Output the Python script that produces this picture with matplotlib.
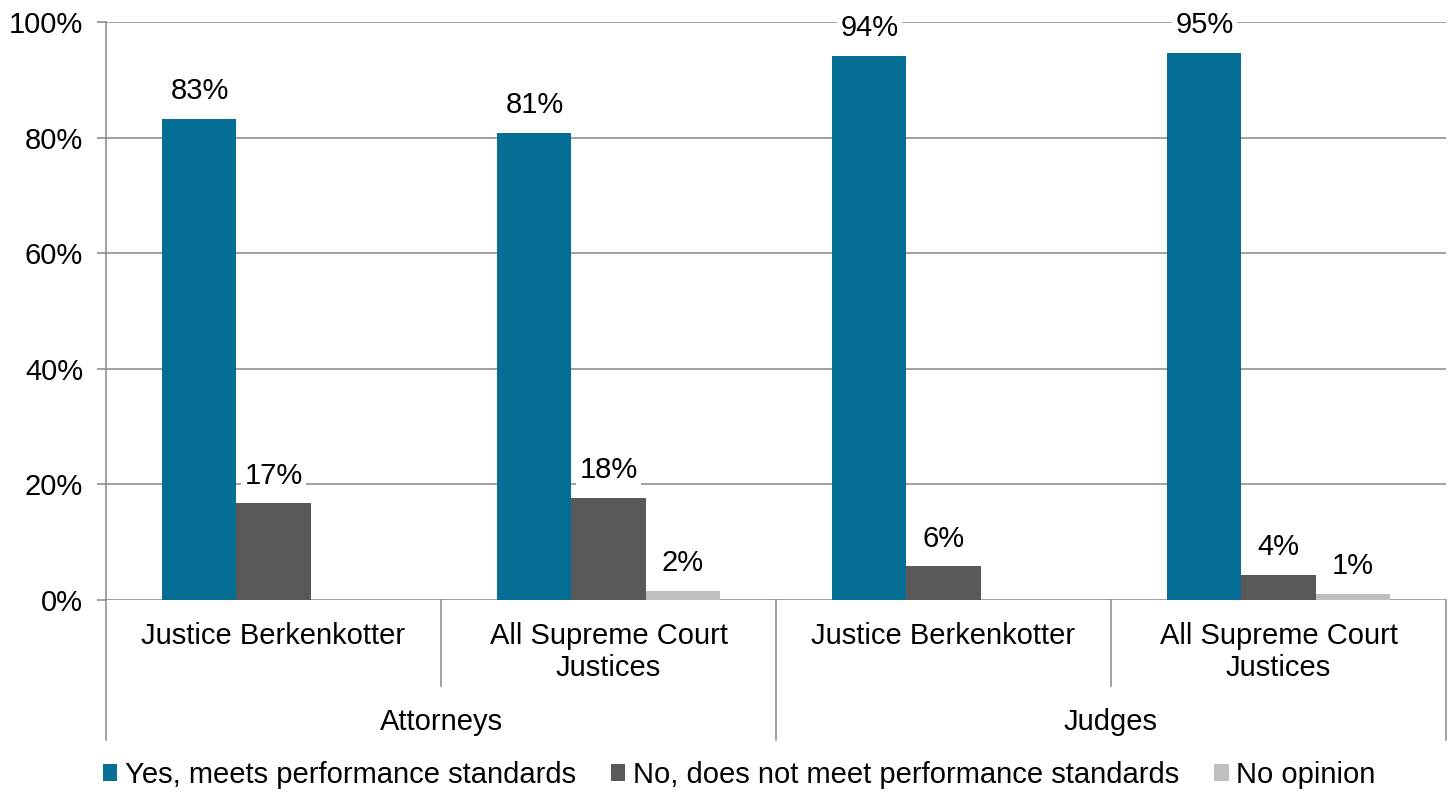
import numpy as np
import matplotlib
matplotlib.use("Agg")
import matplotlib.pyplot as plt

plt.rcParams['font.family'] = ['Liberation Sans', 'DejaVu Sans']

# data
categories = ["Justice Berkenkotter", "All Supreme Court\nJustices",
              "Justice Berkenkotter", "All Supreme Court\nJustices"]
groups = ["Attorneys", "Judges"]
series = ["Yes, meets performance standards",
          "No, does not meet performance standards",
          "No opinion"]
yes_vals = [83.3, 80.8, 94.2, 94.6]
no_vals = [16.7, 17.6, 5.8, 4.4]
noop_vals = [0.0, 1.6, 0.0, 1.1]
colors = ["#046e94", "#595959", "#bfbfbf"]

grid_col = "#878787"
fs = 21

fig = plt.figure(figsize=(14.53, 7.94), dpi=100)
ax = fig.add_axes([106/1453, 1-600/794, 1340/1453, 578/794])

x = np.arange(len(categories))
w = 0.221
all_vals = [yes_vals, no_vals, noop_vals]
for i, (vals, col, name) in enumerate(zip(all_vals, colors, series)):
    xs = x + (i-1)*w
    ax.bar(xs, vals, width=w, color=col, label=name, zorder=3)
    for xi, v in zip(xs, vals):
        if v <= 0:
            continue
        ax.annotate(f"{v:.0f}%", (xi, v), xytext=(0, 20), textcoords="offset points",
                    ha="center", va="center", fontsize=fs, zorder=4,
                    bbox=dict(boxstyle="square,pad=0.12", fc="white", ec="none"))

ax.set_xlim(-0.5, len(categories)-0.5)
ax.set_ylim(0, 100)
ax.set_yticks(np.arange(0, 101, 20))
ax.set_yticklabels([f"{t}%" for t in range(0, 101, 20)], fontsize=fs)
ax.yaxis.grid(True, color=grid_col, linewidth=1.1, zorder=0)
ax.set_axisbelow(True)
ax.tick_params(axis='y', length=6.5, width=1.1, color=grid_col, pad=10)
ax.set_xticks([])
for s in ["top", "right", "bottom"]:
    ax.spines[s].set_visible(False)
ax.spines["left"].set_color(grid_col)
ax.spines["left"].set_linewidth(1.1)

# hierarchical x axis
tr = ax.get_xaxis_transform()
inner_y = -86/578
outer_y = -140/578
for xb in [0.5, 2.5]:
    ax.plot([xb, xb], [0, inner_y], transform=tr, color=grid_col, lw=1.1, clip_on=False)
for xb in [-0.5, 1.5, 3.5]:
    ax.plot([xb, xb], [0, outer_y], transform=tr, color=grid_col, lw=1.1, clip_on=False)
for xi, lab in zip(x, categories):
    ax.text(xi, -22/578, lab, transform=tr, ha="center", va="top", fontsize=fs,
            linespacing=1.18)
for gi, g in enumerate(groups):
    ax.text(0.5 + 2*gi, -122/578, g, transform=tr, ha="center", va="center", fontsize=fs)

fig.legend(loc="center", bbox_to_anchor=(739/1453, 1-775/794), ncol=3, frameon=False,
           fontsize=fs, handlelength=0.5, handleheight=0.5, handletextpad=0.25,
           columnspacing=1.2)

fig.savefig("out.png", dpi=100)
